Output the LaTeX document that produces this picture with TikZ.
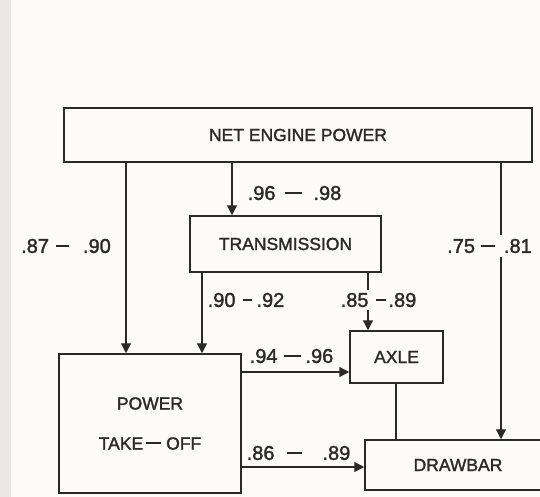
\documentclass[tikz,border=0pt]{standalone}
\usepackage{fontspec}
\setmainfont{Liberation Sans}[BoldFont=Liberation Sans,BoldFeatures={FakeBold=1.6}]
\usetikzlibrary{arrows.meta}
\definecolor{ink}{HTML}{2A2A2A}
\definecolor{paper}{HTML}{FCFBFA}
\definecolor{strip}{HTML}{ECE6E4}
\newcommand\rng[5]{#1\hspace{#2}\rule[6pt]{#3}{2pt}\hspace{#4}#5}
\begin{document}
\begin{tikzpicture}[x=1pt,y=-1pt,
  box/.style={draw=ink,line width=1.5pt,inner sep=0pt,text=ink,font=\fontsize{17.5}{21}\selectfont\bfseries},
  lab/.style={inner sep=0pt,text=ink,font=\fontsize{20}{24}\selectfont\bfseries},
  conn/.style={draw=ink,line width=1.3pt},
  arr/.style={conn,-{Triangle[length=10pt,width=10pt]}}]
\useasboundingbox (0,0) rectangle (540,497);
\clip (0,0) rectangle (540,497);
\fill[paper] (0,0) rectangle (540,497);
\fill[strip] (0,0) rectangle (11,497);
% boxes
\node[box,minimum width=468pt,minimum height=54pt] (nep) at (298,135) {NET ENGINE POWER};
\node[box,minimum width=191pt,minimum height=56pt] (trans) at (285.5,244) {TRANSMISSION};
\node[box,minimum width=182pt,minimum height=139pt,align=center] (pto) at (150,423.5)
  {POWER\\[19pt]TAKE\hspace{3pt}\rule[5.5pt]{15pt}{1.9pt}\hspace{5pt}OFF};
\node[box,minimum width=93pt,minimum height=52pt] (axle) at (396.5,357) {AXLE};
\node[box,minimum width=186pt,minimum height=50pt] (bar) at (458,465) {DRAWBAR};
% guide coordinates
\coordinate (xA) at (126,0);
\coordinate (xB) at (232,0);
\coordinate (xC) at (501,0);
\coordinate (xD) at (202,0);
\coordinate (xE) at (368,0);
\coordinate (xF) at (396,0);
\coordinate (yA) at (0,372);
\coordinate (yB) at (0,467);
% connectors
\draw[arr] (nep.south -| xA) -- (pto.north -| xA);
\draw[arr] (nep.south -| xB) -- (trans.north -| xB);
\draw[arr] (nep.south -| xC) -- (bar.north -| xC);
\draw[arr] (trans.south -| xD) -- (pto.north -| xD);
\draw[arr] (trans.south -| xE) -- (axle.north -| xE);
\draw[arr] (pto.east |- yA) -- (axle.west |- yA);
\draw[arr] (pto.east |- yB) -- (bar.west |- yB);
\draw[conn] (axle.south -| xF) -- (bar.north -| xF);
% labels
\node[lab] (l1) at (294.5,193) {\rng{.96}{9pt}{17pt}{12pt}{.98}};
\node[lab] (l2) at (66,246) {\rng{.87}{7pt}{13pt}{14pt}{.90}};
\node[lab,fill=paper,inner xsep=1pt,inner ysep=4pt] (l3) at (489.5,246) {\rng{.75}{6pt}{14pt}{9pt}{.81}};
\node[lab] (l4) at (246,300) {\rng{.90}{7pt}{9pt}{5pt}{.92}};
\node[lab,fill=paper,inner xsep=1pt,inner ysep=3pt] (l5) at (378.5,300) {\rng{.85}{7pt}{10pt}{3pt}{.89}};
\node[lab] (l6) at (291.5,356) {\rng{.94}{6pt}{17pt}{5pt}{.96}};
\node[lab] (l7) at (298.5,453) {\rng{.86}{12pt}{15pt}{21pt}{.89}};
\end{tikzpicture}
\end{document}
